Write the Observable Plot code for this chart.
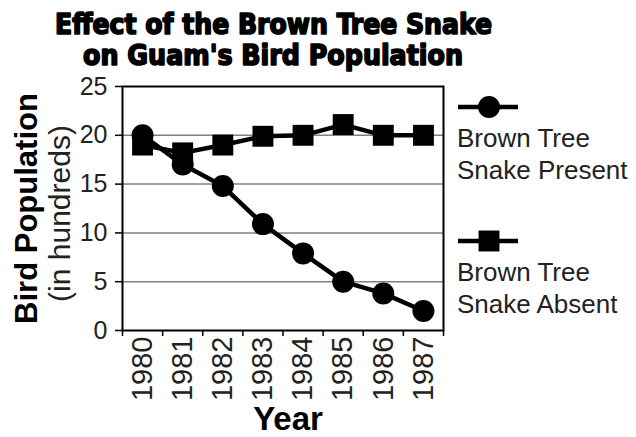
<!DOCTYPE html>
<html>
<head>
<meta charset="utf-8">
<script src="https://cdn.jsdelivr.net/npm/d3@7"></script>
<script src="https://cdn.jsdelivr.net/npm/@observablehq/plot@0.6"></script>
<style>
  html, body { margin: 0; padding: 0; background: #fff; }
  #wrap { position: relative; width: 636px; height: 437px; overflow: hidden; background: #fff; }
  #title { display: block; }
  #chart { position: absolute; left: 0; top: 76px; }
  #legend { position: absolute; left: 440px; top: 80px; }
</style>
</head>
<body>
<div id="wrap">
  <svg id="title" width="636" height="76"></svg>
  <div id="chart"></div>
  <svg id="legend" width="196" height="250"></svg>
</div>
<script>
// ---- data ----
const titleLines = ["Effect of the Brown Tree Snake", "on Guam's Bird Population"];
const years = [1980, 1981, 1982, 1983, 1984, 1985, 1986, 1987];
const presentValues = [20, 17, 14.8, 10.9, 7.9, 5, 3.8, 2];
const absentValues = [19, 18.2, 19, 19.9, 20, 21.1, 20, 20];
const yTicks = [0, 5, 10, 15, 20, 25];
const yLabel = "Bird Population";
const yUnits = "(in hundreds)";
const xLabel = "Year";
const legendLines = [["Brown Tree", "Snake Present"], ["Brown Tree", "Snake Absent"]];
const legendSymbols = ["circle", "square"];

// ---- tables ----
const present = years.map((year, i) => ({year, value: presentValues[i]}));
const absent = years.map((year, i) => ({year, value: absentValues[i]}));
const boundaries = [years[0] - 0.5, ...years.map(y => y + 0.5)];

// ---- title ----
const title = d3.select("#title");
const titleSpecs = [{y: 33.5, len: 437, x: 273.5}, {y: 65, len: 380, x: 273}];
titleLines.forEach((t, i) => {
  title.append("text")
    .attr("x", titleSpecs[i].x).attr("y", titleSpecs[i].y)
    .attr("text-anchor", "middle")
    .attr("font-family", "'DejaVu Sans Condensed', 'DejaVu Sans', sans-serif")
    .attr("font-weight", "bold")
    .attr("font-size", 28)
    .attr("textLength", titleSpecs[i].len)
    .attr("lengthAdjust", "spacingAndGlyphs")
    .attr("fill", "#000").attr("stroke", "#000").attr("stroke-width", 1.6)
    .attr("stroke-linejoin", "round")
    .text(t);
});

// ---- chart ----
const chart = Plot.plot({
  width: 636,
  height: 361,
  marginTop: 10,
  marginBottom: 107,
  marginLeft: 122,
  marginRight: 193,
  style: {fontFamily: "'Liberation Sans', Arial, sans-serif", background: "white", color: "#000", overflow: "visible"},
  x: {type: "linear", domain: [years[0] - 0.5, years[years.length - 1] + 0.5]},
  y: {domain: [0, 25]},
  marks: [
    Plot.gridY(yTicks.slice(1, -1), {stroke: "#808080", strokeOpacity: 1, strokeWidth: 1.5}),
    Plot.frame({stroke: "black", strokeWidth: 2}),
    Plot.axisY(yTicks, {tickSize: 7, tickPadding: 8, fontSize: 25, strokeWidth: 1.5, label: null, fill: "#222"}),
    Plot.axisX(boundaries, {tickSize: 6, strokeWidth: 1.5, tickFormat: () => "", label: null}),
    Plot.axisX(years, {tickSize: 0, tickPadding: 6, tickRotate: -90, fontSize: 29, tickFormat: d => String(d), label: null, fill: "#222"}),
    Plot.line(present, {x: "year", y: "value", stroke: "black", strokeWidth: 4.5}),
    Plot.dot(present, {x: "year", y: "value", r: 11, fill: "black", symbol: "circle"}),
    Plot.line(absent, {x: "year", y: "value", stroke: "black", strokeWidth: 4.5}),
    Plot.dot(absent, {x: "year", y: "value", r: 11.8, fill: "black", symbol: "square"}),
    Plot.text([yLabel], {text: d => d, frameAnchor: "left", textAnchor: "middle", rotate: -90, dx: -95, fontSize: 31, fontWeight: "bold", fill: "#000"}),
    Plot.text([yUnits], {text: d => d, frameAnchor: "left", textAnchor: "middle", rotate: -90, dx: -62, dy: 5, fontSize: 30, fill: "#222"}),
    Plot.text([xLabel], {text: d => d, frameAnchor: "bottom", textAnchor: "middle", dx: 5, dy: 99, fontSize: 33, fontWeight: "bold", fill: "#000"})
  ]
});
document.getElementById("chart").appendChild(chart);

// ---- legend (offset: left 440, top 80) ----
const legend = d3.select("#legend");
const groupTop = [27, 161];   // icon line y within legend svg
legendLines.forEach((lines, i) => {
  const g = legend.append("g").attr("transform", `translate(0,${groupTop[i]})`);
  g.append("line").attr("x1", 18).attr("x2", 78).attr("y1", 0).attr("y2", 0)
    .attr("stroke", "#000").attr("stroke-width", 4.5);
  g.append("path")
    .attr("transform", "translate(49,0)")
    .attr("d", d3.symbol(legendSymbols[i] === "circle" ? d3.symbolCircle : d3.symbolSquare,
                         legendSymbols[i] === "circle" ? Math.PI * 11 * 11 : Math.PI * 11.8 * 11.8)())
    .attr("fill", "#000");
  lines.forEach((t, j) => {
    g.append("text").attr("x", 17).attr("y", 40 + j * 32)
      .attr("font-family", "'Liberation Sans', Arial, sans-serif")
      .attr("font-size", 26).attr("fill", "#222")
      .text(t);
  });
});
</script>
</body>
</html>
